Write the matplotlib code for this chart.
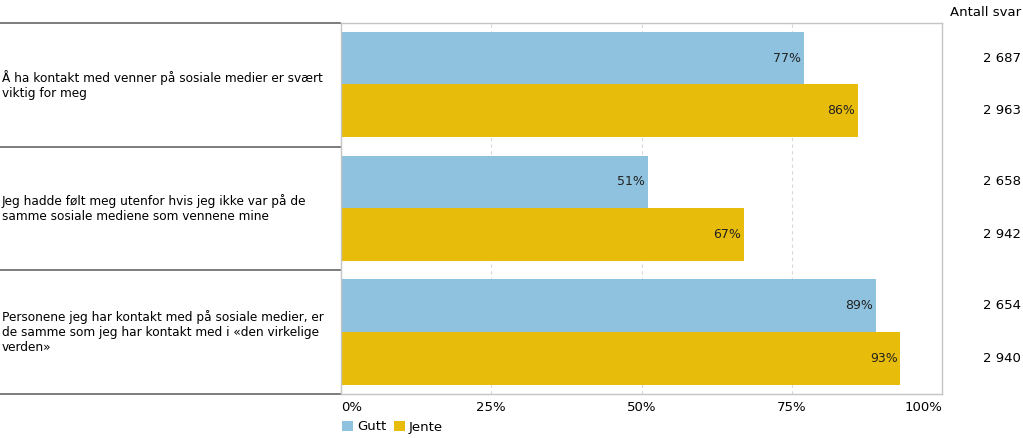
import matplotlib.pyplot as plt
from matplotlib.transforms import blended_transform_factory

# data
categories = [
    'Å ha kontakt med venner på sosiale medier er svært\nviktig for meg',
    'Jeg hadde følt meg utenfor hvis jeg ikke var på de\nsamme sosiale mediene som vennene mine',
    'Personene jeg har kontakt med på sosiale medier, er\nde samme som jeg har kontakt med i «den virkelige\nverden»',
]
gutt = [77, 51, 89]
jente = [86, 67, 93]
antall_gutt = ['2 687', '2 658', '2 654']
antall_jente = ['2 963', '2 942', '2 940']
ticks = [0, 25, 50, 75, 100]

blue = '#8ec2df'
gold = '#e8bc0b'

W, H = 1023, 438
fig = plt.figure(figsize=(W / 100, H / 100), dpi=100)
plt.rcParams['font.family'] = 'DejaVu Sans'
fs = 9.5

# main bar axes
x0, x1, y0, y1 = 341, 942, 23, 394
ax = fig.add_axes([x0 / W, 1 - y1 / H, (x1 - x0) / W, (y1 - y0) / H])
ax.set_xlim(0, 100)
ax.set_ylim(2.5, -0.5)

pos = list(range(len(categories)))
ax.barh([p - 0.215 for p in pos], gutt, height=0.425, color=blue, label='Gutt', zorder=2)
ax.barh([p + 0.21 for p in pos], jente, height=0.43, color=gold, label='Jente', zorder=2)

for p, g, j in zip(pos, gutt, jente):
    ax.text(g - 0.4, p - 0.215, f'{g}%', ha='right', va='center', fontsize=9, color='#222222')
    ax.text(j - 0.4, p + 0.21, f'{j}%', ha='right', va='center', fontsize=9, color='#222222')

for t in ticks[1:-1]:
    ax.axvline(t, color='#d8d8d8', linestyle=(0, (3, 3)), linewidth=0.8, zorder=1)

ax.set_xticks(ticks)
ax.set_xticklabels([f'{t}%' for t in ticks], fontsize=fs)
labels = ax.get_xticklabels()
labels[0].set_ha('left')
labels[-1].set_ha('right')
ax.tick_params(axis='x', length=0, pad=5)
ax.set_yticks([])
for side in ['top', 'right', 'bottom', 'left']:
    ax.spines[side].set_color('#c4c4c4')
    ax.spines[side].set_linewidth(1)

# left label boxes
lax = fig.add_axes([0, 1 - y1 / H, (x0 - 1) / W, (y1 - y0) / H])
lax.set_xlim(0, 1)
lax.set_ylim(2.5, -0.5)
lax.axis('off')
for b in [-0.5, 0.5, 1.5, 2.5]:
    lax.axhline(b, color='#666666', linewidth=1.2, clip_on=False)
for p, c in zip(pos, categories):
    lax.text(0.005, p, c, ha='left', va='center', fontsize=8.7, linespacing=1.2)

# right column
tr = blended_transform_factory(fig.transFigure, ax.transData)
fig.text(1021 / W, 1 - 12 / H, 'Antall svar', ha='right', va='center', fontsize=fs)
for p, a, b in zip(pos, antall_gutt, antall_jente):
    ax.text(1021 / W, p - 0.215, a, transform=tr, ha='right', va='center', fontsize=fs)
    ax.text(1021 / W, p + 0.21, b, transform=tr, ha='right', va='center', fontsize=fs)

# legend
fig.legend(loc='center left', bbox_to_anchor=(337 / W, 1 - 427 / H), ncol=2, frameon=False,
           fontsize=fs, handlelength=0.8, handleheight=0.8, handletextpad=0.3, columnspacing=0.6,
           borderaxespad=0)

fig.savefig('out.png', dpi=100)
